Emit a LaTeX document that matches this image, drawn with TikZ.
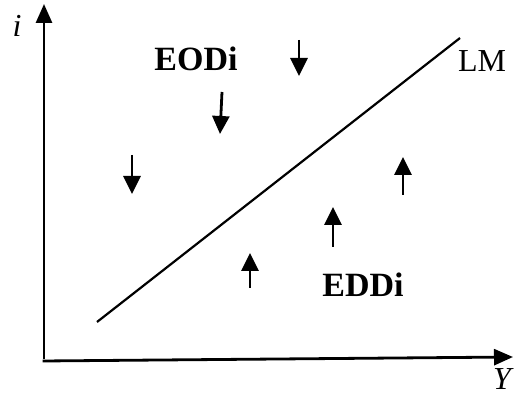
\documentclass[tikz,border=0pt]{standalone}
\usepackage{fontspec}
\setmainfont{Liberation Serif}
\usepackage{tikz}
\usetikzlibrary{arrows.meta,positioning}

\begin{document}
\begin{tikzpicture}[
  x=1pt,y=-1pt,
  axis/.style={-{Triangle[length=19pt,width=16pt]},line width=2.8pt},
  mv/.style={-{Triangle[length=18pt,width=17pt]},line width=2.8pt},
  curve/.style={line width=2.2pt},
  zone/.style={font=\fontsize{34}{38}\selectfont\bfseries,inner sep=0pt},
  lbl/.style={font=\fontsize{32}{36}\selectfont,inner sep=0pt}
]
\useasboundingbox (0,0) rectangle (514,395);

% axes
\coordinate (o) at (44,359);
\coordinate (itop) at (44,4);
\coordinate (yend) at (513,357);
\draw[axis] (o) -- (itop);
\draw[axis] ([xshift=-1.4pt,yshift=-2pt]o) -- (yend);
\node[lbl] (ilab) at (17,26) {\itshape i};
\node[lbl] (ylab) at (502,379) {\itshape Y};

% LM curve
\coordinate (lm0) at (97,322);
\coordinate (lm1) at (460,38);
\draw[curve] (lm0) -- (lm1);
\node[lbl] (lm) at (482,61) {LM};

% regions
\node[zone] (eodi) at (196,59) {EODi};
\node[zone] (eddi) at (363,285) {EDDi};

% excess supply: i falls
\coordinate (d1a) at (299,40);  \coordinate (d1b) at (299,76);
\coordinate (d2a) at (222,92);  \coordinate (d2b) at (220,134);
\coordinate (d3a) at (132,155); \coordinate (d3b) at (132,194);
\foreach \a/\b in {d1a/d1b,d2a/d2b,d3a/d3b}
  \draw[mv] (\a) -- (\b);

% excess demand: i rises
\coordinate (u1a) at (403,195); \coordinate (u1b) at (403,157);
\coordinate (u2a) at (333,247); \coordinate (u2b) at (333,207);
\coordinate (u3a) at (250,288); \coordinate (u3b) at (250,253);
\foreach \a/\b in {u1a/u1b,u2a/u2b,u3a/u3b}
  \draw[mv] (\a) -- (\b);
\end{tikzpicture}
\end{document}
